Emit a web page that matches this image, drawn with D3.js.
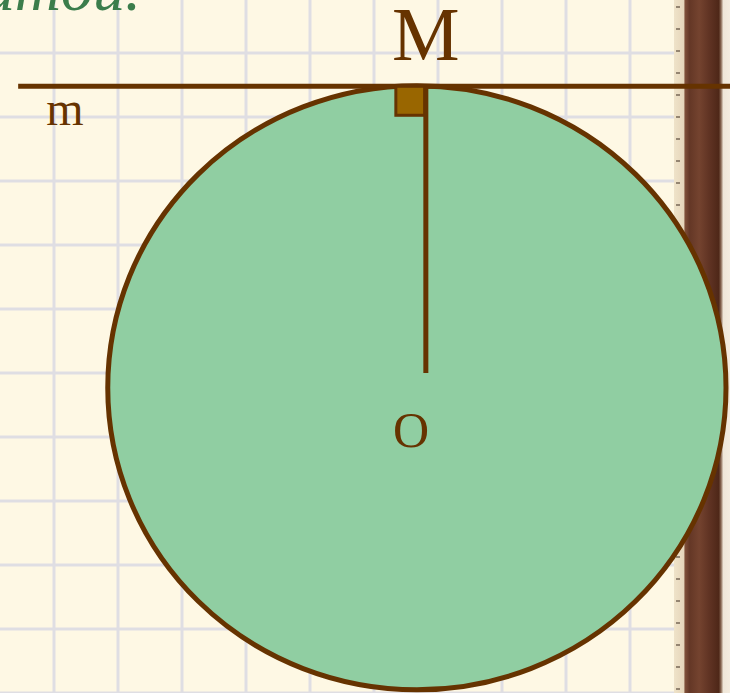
<!DOCTYPE html>
<html>
<head>
<meta charset="utf-8">
<script src="https://cdn.jsdelivr.net/npm/d3@7"></script>
<style>
body { margin: 0; background: #fef8e4; overflow: hidden; }
</style>
</head>
<body>
<svg width="730" height="693"></svg>
<script>
// diagram data, in grid units (one grid cell = 1)
var gridCols = d3.range(0, 11);
var gridRows = d3.range(0, 11);
var circleCenter = [5.67, 5.23];
var circleRadii = [4.83, 4.72];
var tangentY = [0.52];
var tangentX = [-0.56, 10.6];
var radiusX = [5.81];
var radiusY = [0.52, 5.0];
var labels = ["M", "m", "O"];
var labelPos = [[5.81, 0.11], [-0.12, 1.13], [5.58, 6.15]];
var labelSize = [76, 48, 50];

var svg = d3.select("svg");
var x = d3.scaleLinear().domain([0, 1]).range([54, 118]);
var y = d3.scaleLinear().domain([0, 1]).range([53, 117]);
var brown = "#663300";

// grid
svg.selectAll(".vline").data(gridCols).enter().append("line")
    .attr("class", "vline")
    .attr("x1", d => x(d)).attr("x2", d => x(d))
    .attr("y1", 0).attr("y2", 693)
    .style("stroke", "#dfdee3").style("stroke-width", 3);
svg.selectAll(".hline").data(gridRows).enter().append("line")
    .attr("class", "hline")
    .attr("x1", 0).attr("x2", 730)
    .attr("y1", d => y(d)).attr("y2", d => y(d))
    .style("stroke", "#dfdee3").style("stroke-width", 3);

// wooden bar on the right
var defs = svg.append("defs");
var g = defs.append("linearGradient").attr("id", "wood");
[["0%", "#efe3c9"], ["17%", "#e6d6bb"], ["20%", "#7e4e38"], ["28%", "#643726"],
 ["45%", "#74432f"], ["62%", "#613424"], ["80%", "#4e2718"], ["84%", "#8a6a55"],
 ["88%", "#efe6d8"], ["100%", "#f4ecdf"]].forEach(function(s) {
    g.append("stop").attr("offset", s[0]).attr("stop-color", s[1]);
});
svg.append("rect")
    .attr("x", 674).attr("y", 0).attr("width", 56).attr("height", 693)
    .style("fill", "url(#wood)");
// specks on the light strip
svg.selectAll(".speck").data(d3.range(0, 693, 22)).enter().append("rect")
    .attr("class", "speck")
    .attr("x", 676).attr("y", d => d + 6)
    .attr("width", 4).attr("height", 2)
    .style("fill", "#5a4a3a").style("opacity", 0.6);

// cut-off heading
svg.append("text")
    .attr("x", 141).attr("y", 10)
    .attr("text-anchor", "end")
    .style("font-family", "Liberation Serif")
    .style("font-style", "italic")
    .style("font-size", "64px")
    .style("fill", "#3b7d4b")
    .text("итой.");

// circle
svg.append("ellipse")
    .attr("cx", x(circleCenter[0])).attr("cy", y(circleCenter[1]))
    .attr("rx", x(circleRadii[0]) - x(0)).attr("ry", y(circleRadii[1]) - y(0))
    .style("fill", "#90cea2").style("stroke", brown).style("stroke-width", 5);

// tangent line
svg.append("line")
    .attr("x1", x(tangentX[0])).attr("x2", x(tangentX[1]))
    .attr("y1", y(tangentY[0])).attr("y2", y(tangentY[0]))
    .style("stroke", brown).style("stroke-width", 5);

// right angle mark
svg.append("rect")
    .attr("x", x(radiusX[0]) - 30).attr("y", y(tangentY[0]))
    .attr("width", 29).attr("height", 29)
    .style("fill", "#996600").style("stroke", brown).style("stroke-width", 3);

// radius OM
svg.append("line")
    .attr("x1", x(radiusX[0])).attr("x2", x(radiusX[0]))
    .attr("y1", y(radiusY[0])).attr("y2", y(radiusY[1]))
    .style("stroke", brown).style("stroke-width", 5);

// labels
svg.selectAll(".lbl").data(labels).enter().append("text")
    .attr("class", "lbl")
    .attr("x", (d, i) => x(labelPos[i][0]))
    .attr("y", (d, i) => y(labelPos[i][1]))
    .attr("text-anchor", (d, i) => i == 1 ? "start" : "middle")
    .style("font-family", "Liberation Serif")
    .style("font-size", (d, i) => labelSize[i] + "px")
    .style("fill", brown)
    .text(d => d);
</script>
</body>
</html>
